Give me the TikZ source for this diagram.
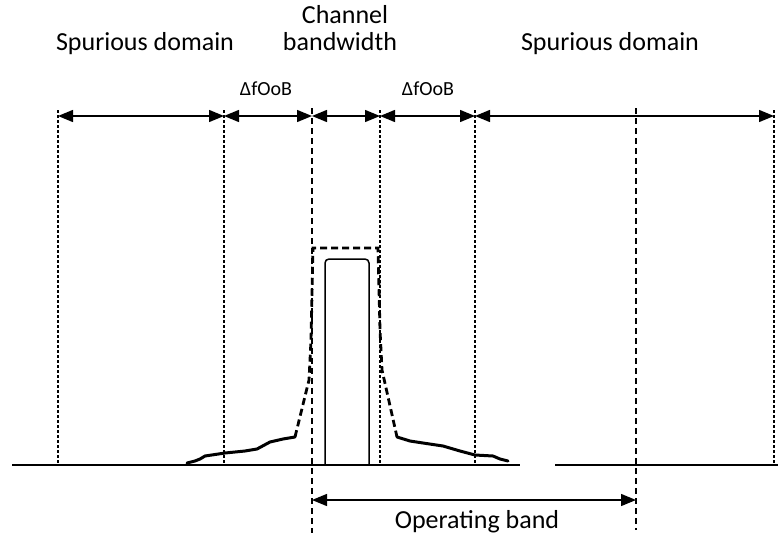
\documentclass[tikz,border=0pt]{standalone}
\usepackage{fontspec}
\setmainfont{Carlito}
\usetikzlibrary{arrows.meta}
\begin{document}
\begin{tikzpicture}[x=1pt,y=-1pt,
    marker/.style={line width=1.3pt,dash pattern=on 3pt off 2pt},
    bandedge/.style={line width=2.4pt,dash pattern=on 6pt off 4pt},
    span/.style={line width=1.4pt,{Triangle[length=15pt,width=12pt]}-{Triangle[length=15pt,width=12pt]}},
    skirt/.style={line width=3pt,line cap=round,line join=round},
    lbl/.style={font=\fontsize{26}{30}\selectfont,inner sep=0pt,anchor=base},
    small/.style={font=\fontsize{20}{24}\selectfont,inner sep=0pt,anchor=base}]
\useasboundingbox (0,0) rectangle (778,533);
% frequency marks
\foreach \n/\x in {a/58,b/224,d/380,e/475,g/774}{
    \coordinate (\n t) at (\x,116);
    \draw[marker] (\x,110) -- (\x,465);
}
\coordinate (ct) at (312,116);
\draw[bandedge] (312,108) -- (312,533);
\draw[bandedge] (636,108) -- (636,530);
% spans
\draw[span] (at) -- (bt);
\draw[span] (bt) -- (ct);
\draw[span] (ct) -- (dt);
\draw[span] (dt) -- (et);
\draw[span] (et) -- (gt);
\coordinate (ob1) at (312,500);
\coordinate (ob2) at (636,500);
\draw[span] (ob1) -- (ob2);
% axis
\draw[line width=1.8pt] (12,465) -- (520,465);
\draw[line width=1.8pt] (555,465) -- (778,465);
% signal
\draw[line width=1.5pt,rounded corners=4pt] (325,465) -- (325,259) -- (369,259) -- (369,465);
\draw[bandedge,line width=2.8pt,dash pattern=on 7pt off 4pt] (295,437) -- (309,380) -- (311,340) -- (313,248) -- (378,248)
    -- (380,330) -- (382,370) -- (397,437);
\draw[skirt] (187,463) -- (195,461) -- (200,459) -- (205,456) -- (225,453) -- (245,451)
    -- (257,449) -- (270,442) -- (283,439) -- (295,437);
\draw[skirt] (397,437) -- (410,441) -- (423,443) -- (443,446) -- (460,451) -- (475,455)
    -- (493,456) -- (500,459) -- (508,461);
% labels
\node[lbl] (lspur) at (145,50) {Spurious domain};
\node[lbl] (chan) at (345,23) {Channel};
\node[lbl] (bw) at (340,50) {bandwidth};
\node[small] (loob) at (266,95) {ΔfOoB};
\node[small] (roob) at (428,95) {ΔfOoB};
\node[lbl] (rspur) at (610,50) {Spurious domain};
\node[lbl] (opband) at (477,528) {Operating band};
\end{tikzpicture}
\end{document}
